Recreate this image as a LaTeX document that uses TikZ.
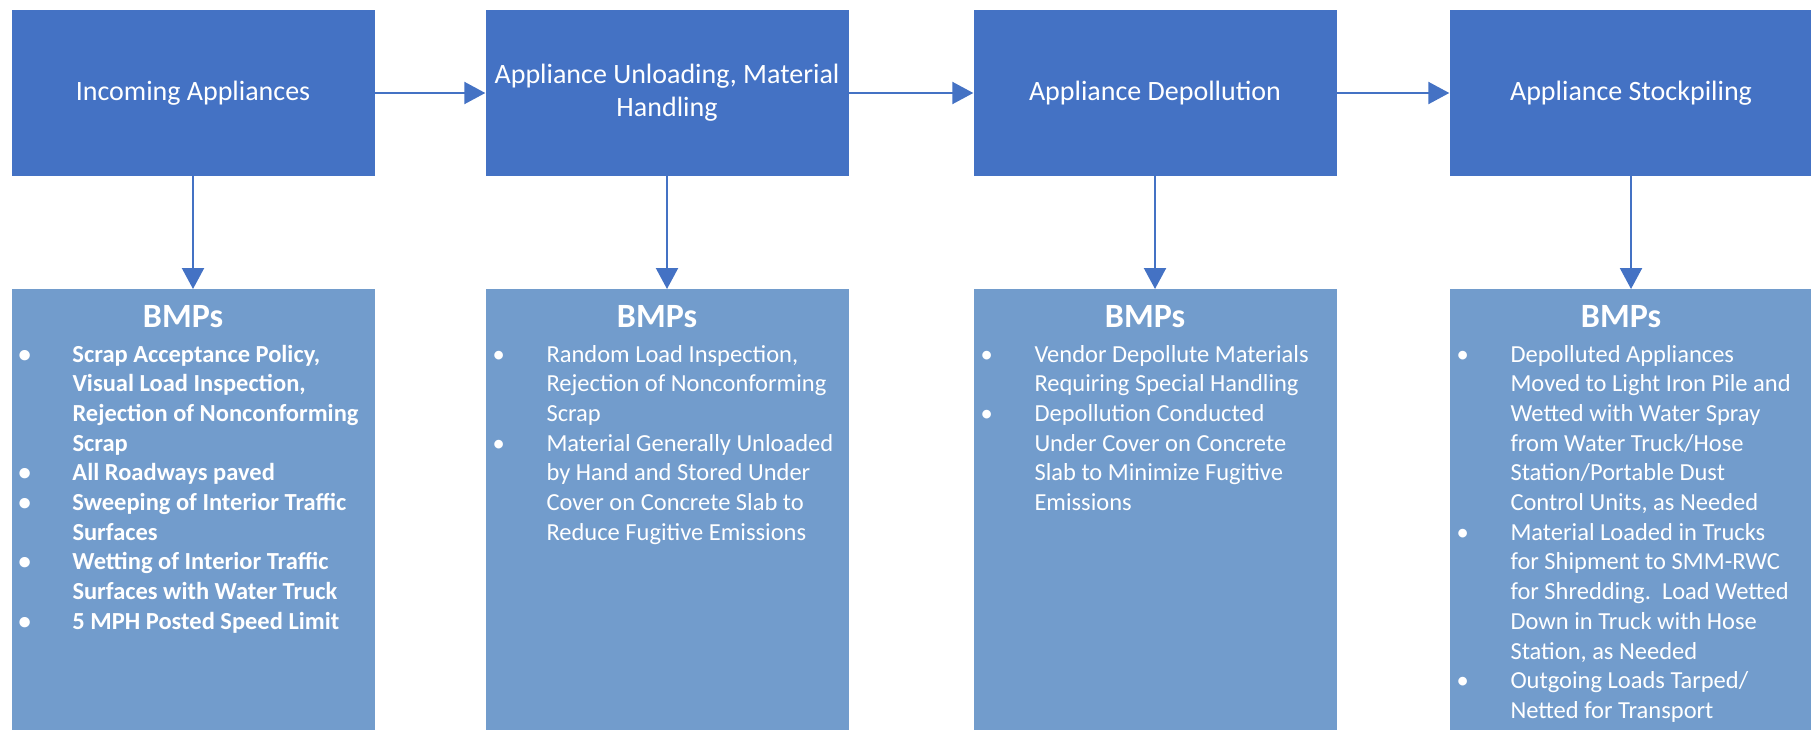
\documentclass[tikz,border=0pt]{standalone}
\usepackage{fontspec}
\setmainfont{Carlito}
\usepackage{xcolor}
\usetikzlibrary{positioning}
\usetikzlibrary{arrows.meta}

\definecolor{stageblue}{HTML}{4472C4}
\definecolor{bmpblue}{HTML}{729CCC}

\tikzset{
stage/.style={rectangle, fill=stageblue, text=white, minimum width=363pt, minimum height=166pt, align=center, inner sep=4pt, font=\fontsize{28}{33}\selectfont},
bmpbox/.style={rectangle, fill=bmpblue, minimum width=363pt, minimum height=446pt, anchor=north, inner sep=0pt},
bmptitle/.style={text=white, inner sep=0pt, anchor=base, font=\bfseries\fontsize{34}{40}\selectfont},
bmptext/.style={text=white, inner sep=0pt, anchor=north west, font=\fontsize{24.5}{29.7}\selectfont},
bmpbold/.style={bmptext, font=\bfseries\fontsize{24.5}{29.7}\selectfont},
flow/.style={draw=stageblue, line width=2.2pt, -{Triangle[length=21pt,width=22pt]}}
}

\newcommand{\bmplist}[1]{\begin{tabular}{@{}p{54pt}@{}p{300pt}@{}}#1\end{tabular}}

\begin{document}
\begin{tikzpicture}[x=1pt,y=-1pt]
\useasboundingbox (0,0) rectangle (1811,729);


% Stage boxes: Blue
\node[stage] (inc) at (193,93) {Incoming Appliances};
\node[stage] (unl) at (667,93) {Appliance Unloading, Material\\Handling};
\node[stage] (dep) at (1155,93) {Appliance Depollution};
\node[stage] (stk) at (1631,93) {Appliance Stockpiling};


% BMP boxes below each stage: Light blue
\foreach \n in {inc,unl,dep,stk}
{
\path (\n.center) ++ (0,196) node[bmpbox] (bmp\n) {};
\path (bmp\n.north) ++ (-10,38) node[bmptitle] (title\n) {BMPs};
}


% BMP lists
\node[bmpbold] (listinc) at ([xshift=7pt,yshift=-52pt]bmpinc.north west) {\bmplist{
\textbullet & Scrap Acceptance Policy,\newline Visual Load Inspection,\newline Rejection of Nonconforming\newline Scrap \\
\textbullet & All Roadways paved \\
\textbullet & Sweeping of Interior Traffic\newline Surfaces \\
\textbullet & Wetting of Interior Traffic\newline Surfaces with Water Truck \\
\textbullet & 5 MPH Posted Speed Limit \\
}};
\node[bmptext] (listunl) at ([xshift=7pt,yshift=-52pt]bmpunl.north west) {\bmplist{
\textbullet & Random Load Inspection,\newline Rejection of Nonconforming\newline Scrap \\
\textbullet & Material Generally Unloaded\newline by Hand and Stored Under\newline Cover on Concrete Slab to\newline Reduce Fugitive Emissions \\
}};
\node[bmptext] (listdep) at ([xshift=7pt,yshift=-52pt]bmpdep.north west) {\bmplist{
\textbullet & Vendor Depollute Materials\newline Requiring Special Handling \\
\textbullet & Depollution Conducted\newline Under Cover on Concrete\newline Slab to Minimize Fugitive\newline Emissions \\
}};
\node[bmptext] (liststk) at ([xshift=7pt,yshift=-52pt]bmpstk.north west) {\bmplist{
\textbullet & Depolluted Appliances\newline Moved to Light Iron Pile and\newline Wetted with Water Spray\newline from Water Truck/Hose\newline Station/Portable Dust\newline Control Units, as Needed \\
\textbullet & Material Loaded in Trucks\newline for Shipment to SMM-RWC\newline for Shredding.\ \ Load Wetted\newline Down in Truck with Hose\newline Station, as Needed \\
\textbullet & Outgoing Loads Tarped/\newline Netted for Transport \\
}};


% Arrows between stages and down to the BMPs
\foreach \a/\b in {inc/unl, unl/dep, dep/stk}
\draw[flow] (\a) -- (\b);
\foreach \n in {inc,unl,dep,stk}
\draw[flow] (\n) -- (bmp\n);

\end{tikzpicture}
\end{document}
